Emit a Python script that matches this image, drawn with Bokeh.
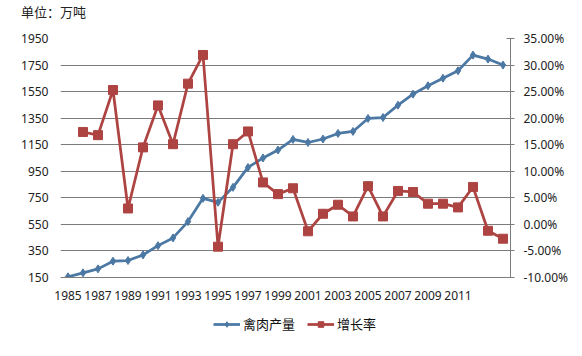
from bokeh.plotting import figure
from bokeh.layouts import column
from bokeh.models import (LinearAxis, Range1d, FixedTicker, PrintfTickFormatter,
                          Legend, LegendItem, Div)
from bokeh.embed import file_html
from bokeh.resources import INLINE

years = list(range(1985, 2015))
production = [155, 185, 215, 273, 278, 320, 390, 448, 571, 746,
              716, 829, 979, 1050, 1110, 1190, 1167, 1193, 1235, 1250,
              1348, 1355, 1448, 1531, 1594, 1651, 1707, 1825, 1795, 1750]
growth_years = years[1:]
growth = [17.4, 16.8, 25.3, 3.0, 14.5, 22.4, 15.1, 26.5, 31.9, -4.2,
          15.1, 17.5, 7.9, 5.7, 6.8, -1.3, 2.0, 3.7, 1.5, 7.2,
          1.5, 6.3, 6.1, 3.9, 3.9, 3.2, 7.05, -1.2, -2.7]
left_ticks = [150, 350, 550, 750, 950, 1150, 1350, 1550, 1750, 1950]
right_ticks = [-10, -5, 0, 5, 10, 15, 20, 25, 30, 35]
x_tick_years = list(range(1985, 2012, 2))
unit_label = "单位：万吨"
series_names = ["禽肉产量", "增长率"]

BLUE = "#4C78A4"
RED = "#AD4442"
GRID = "#7c7c7c"
FONT = "Noto Sans"
CJK = "Noto Sans CJK SC"

title_div = Div(text=unit_label, width=582, height=26, margin=0,
                styles={"font-family": CJK, "font-size": "13px", "color": "#222222",
                        "padding-left": "21px", "padding-top": "3px",
                        "line-height": "18px"})

p = figure(width=582, height=284, output_backend="svg", toolbar_location=None,
           x_range=Range1d(1984.5, 2014.5), y_range=Range1d(150, 1950),
           min_border_left=60, min_border_right=72, min_border_top=12,
           min_border_bottom=33)
p.outline_line_color = None
p.background_fill_color = "white"
p.border_fill_color = "white"

p.extra_y_ranges = {"pct": Range1d(-10, 35)}

# Left axis
ax = p.yaxis[0]
ax.ticker = FixedTicker(ticks=left_ticks)
ax.axis_line_color = None
ax.major_tick_line_color = None
ax.major_tick_out = 0
ax.major_tick_in = 0
ax.minor_tick_line_color = None
ax.major_label_text_font = FONT
ax.major_label_text_font_size = "12px"
ax.major_label_text_color = "#222222"
ax.major_label_standoff = 12

# Bottom axis
xa = p.xaxis[0]
xa.ticker = FixedTicker(ticks=x_tick_years)
xa.axis_line_color = GRID
xa.major_tick_line_color = None
xa.major_tick_out = 0
xa.major_tick_in = 0
xa.minor_tick_line_color = None
xa.major_label_text_font = FONT
xa.major_label_text_font_size = "12px"
xa.major_label_text_color = "#222222"
xa.major_label_standoff = 13

# Right axis
ra = LinearAxis(y_range_name="pct", ticker=FixedTicker(ticks=right_ticks),
                formatter=PrintfTickFormatter(format="%.2f%%"))
ra.axis_line_color = GRID
ra.major_tick_line_color = GRID
ra.major_tick_in = 4
ra.major_tick_out = 4
ra.minor_tick_line_color = None
ra.major_label_text_font = FONT
ra.major_label_text_font_size = "12px"
ra.major_label_text_color = "#222222"
ra.major_label_standoff = 9
p.add_layout(ra, "right")

p.xgrid.grid_line_color = None
p.ygrid.ticker = FixedTicker(ticks=left_ticks)
p.ygrid.grid_line_color = GRID
p.ygrid.grid_line_width = 1

p.line(years, production, line_color=BLUE, line_width=2.75)
p.scatter(years, production, marker="diamond", size=8, fill_color=BLUE,
          line_color=BLUE)
p.line(growth_years, growth, line_color=RED, line_width=2.75, y_range_name="pct")
p.scatter(growth_years, growth, marker="square", size=9, fill_color=RED,
          line_color=RED, y_range_name="pct")

# Legend strip below the chart (its renderers lie outside its 0..1 ranges,
# so only their legend swatches show)
lp = figure(width=582, height=46, output_backend="svg", toolbar_location=None,
            x_range=Range1d(0, 1), y_range=Range1d(0, 1), min_border=0,
            x_axis_location=None, y_axis_location=None)
lp.grid.grid_line_color = None
lp.outline_line_color = None
k1 = lp.line(years, production, line_color=BLUE, line_width=2.75)
k1m = lp.scatter(years, production, marker="diamond", size=8, fill_color=BLUE,
                 line_color=BLUE)
k2 = lp.line(growth_years, growth, line_color=RED, line_width=2.75)
k2m = lp.scatter(growth_years, growth, marker="square", size=9, fill_color=RED,
                 line_color=RED)
legend = Legend(items=[LegendItem(label=series_names[0], renderers=[k1, k1m]),
                       LegendItem(label=series_names[1], renderers=[k2, k2m])],
                orientation="horizontal", location=(153, 23),
                label_text_font=CJK, label_text_font_size="13px",
                label_text_color="#111111", border_line_color=None,
                background_fill_alpha=0, glyph_width=27, glyph_height=14,
                padding=0, spacing=12, label_standoff=3, margin=0)
lp.add_layout(legend, "center")

layout = column(title_div, p, lp, spacing=0)
open("out.html", "w").write(file_html(layout, INLINE))
